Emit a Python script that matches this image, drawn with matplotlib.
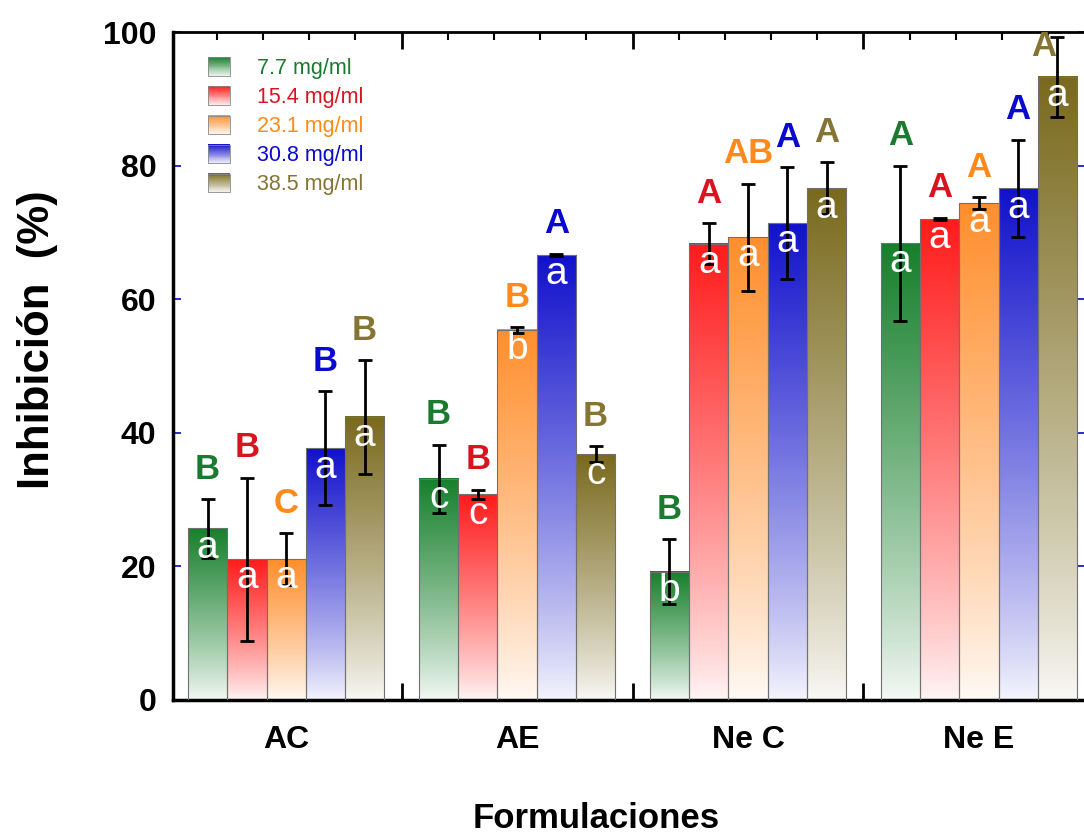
import numpy as np
import matplotlib
matplotlib.use('Agg')
import matplotlib.pyplot as plt
from matplotlib.colors import LinearSegmentedColormap, to_rgb
from matplotlib.legend_handler import HandlerBase
from matplotlib.patches import Rectangle, Patch

plt.rcParams['font.family'] = ['Liberation Sans', 'DejaVu Sans']

groups = ['AC', 'AE', 'Ne C', 'Ne E']
conc = ['7.7 mg/ml', '15.4 mg/ml', '23.1 mg/ml', '30.8 mg/ml', '38.5 mg/ml']

# mean inhibition (%) per concentration, one value per formulation
c77 = [25.7, 33.1, 19.2, 68.4]
c154 = [21.1, 30.8, 68.3, 72.0]
c231 = [21.1, 55.4, 69.3, 74.4]
c308 = [37.7, 66.6, 71.4, 76.6]
c385 = [42.4, 36.8, 76.6, 93.3]

# standard deviations
s77 = [4.4, 5.1, 4.9, 11.6]
s154 = [12.2, 0.7, 3.1, 0.2]
s231 = [3.9, 0.4, 8.0, 0.9]
s308 = [8.5, 0.2, 8.4, 7.3]
s385 = [8.5, 1.2, 3.9, 6.0]

# significance letters
up77 = ['B', 'B', 'B', 'A']
up154 = ['B', 'B', 'A', 'A']
up231 = ['C', 'B', 'AB', 'A']
up308 = ['B', 'A', 'A', 'A']
up385 = ['B', 'B', 'A', 'A']
lo77 = ['a', 'c', 'b', 'a']
lo154 = ['a', 'c', 'a', 'a']
lo231 = ['a', 'b', 'a', 'a']
lo308 = ['a', 'a', 'a', 'a']
lo385 = ['a', 'c', 'a', 'a']

means = [c77, c154, c231, c308, c385]
sds = [s77, s154, s231, s308, s385]
ups = [up77, up154, up231, up308, up385]
los = [lo77, lo154, lo231, lo308, lo385]

bar_colors = ['#17802c', '#ff1c1c', '#ff8f2e', '#1212cc', '#7a6a1e']
letter_colors = ['#1a7a30', '#d8141e', '#ff8a1c', '#0a0acc', '#857434']


def fade(col, t):
    c = np.array(to_rgb(col))
    return tuple(1 - (1 - c) * t)


class GradientHandler(HandlerBase):
    def create_artists(self, legend, orig_handle, xdescent, ydescent,
                       width, height, fontsize, trans):
        col = orig_handle.get_facecolor()
        n = 20
        arts = []
        for k in range(n):
            t = (k + 0.5) / n
            r = Rectangle((-xdescent, -ydescent + k * height / n), width, height / n + 0.3,
                          facecolor=fade(col, 0.08 + 0.92 * t), edgecolor='none', transform=trans)
            arts.append(r)
        arts.append(Rectangle((-xdescent, -ydescent), width, height, facecolor='none',
                              edgecolor='#888888', linewidth=0.6, transform=trans))
        return arts


fig = plt.figure(figsize=(10.84, 8.4), dpi=100)
ax = fig.add_axes([0.1596, 0.1667, 0.8423, 0.7952])

x = np.arange(len(groups))
width = 0.17
offsets = (np.arange(5) - 2) * width
grad = np.linspace(0, 1, 256).reshape(-1, 1) ** 0.85

for i in range(5):
    xs = x + offsets[i]
    col = bar_colors[i]
    bars = ax.bar(xs, means[i], width, color='none', edgecolor='#707070', linewidth=0.8, zorder=3)
    cmap = LinearSegmentedColormap.from_list('g%d' % i, [fade(col, 0.04), col])
    for b in bars:
        x0, w, h = b.get_x(), b.get_width(), b.get_height()
        ax.imshow(grad, cmap=cmap, aspect='auto', origin='lower',
                  extent=[x0, x0 + w, 0, h], zorder=2, interpolation='bilinear')
    ax.errorbar(xs, means[i], yerr=sds[i], fmt='none', ecolor='black',
                elinewidth=2, capsize=5, capthick=2, zorder=4)
    for xi, mi, si, up, lo in zip(xs, means[i], sds[i], ups[i], los[i]):
        yl = mi + si + 2.0
        xl = xi
        if yl > 96:
            yl = 95.3
            xl = xi - 0.06
        ax.text(xl, yl, up, color=letter_colors[i], fontsize=25, fontweight='bold',
                ha='center', va='bottom', zorder=5)
        ax.text(xi, mi - 4.4, lo, color='white', fontsize=28,
                ha='center', va='baseline', zorder=5)

ax.set_xlim(-0.49, 3.464)
ax.set_ylim(0, 100)

# y axis
ax.set_yticks([0, 20, 40, 60, 80, 100])
ax.tick_params(axis='y', which='major', direction='in', left=True, right=True,
               color='#1a1acc', length=6, width=1.3, labelsize=23, pad=12)
for lab in ax.get_yticklabels():
    lab.set_fontweight('bold')

# x axis ticks (Origin-like)
ax.set_xticks([0.5, 1.5, 2.5])
ax.set_xticklabels([])
minor = [p for p in np.round(np.arange(-0.3, 3.31, 0.2), 2) if p not in (0.5, 1.5, 2.5)]
ax.set_xticks(minor, minor=True)
ax.tick_params(axis='x', which='both', direction='in', top=True, bottom=True, color='black')
ax.tick_params(axis='x', which='major', length=12, width=2)
ax.tick_params(axis='x', which='minor', length=6, width=1.5)

sec = ax.secondary_xaxis('bottom')
sec.set_xticks(x, labels=groups)
sec.tick_params(length=0, pad=18, labelsize=23)
for lab in sec.get_xticklabels():
    lab.set_fontweight('bold')
sec.spines['bottom'].set_visible(False)

for side in ['left', 'bottom']:
    ax.spines[side].set_linewidth(2.5)
ax.spines['top'].set_linewidth(2)
ax.spines['right'].set_linewidth(1)

ax.set_ylabel('Inhibición  (%)', fontsize=31.5, fontweight='bold', va='center')
ax.yaxis.set_label_coords(-0.148, 0.54)
ax.set_xlabel('Formulaciones', fontsize=25, fontweight='bold', va='center')
ax.xaxis.set_label_coords(0.464, -0.177)

handles = [Patch(facecolor=c) for c in bar_colors]
leg = ax.legend(handles, conc, loc='upper left', bbox_to_anchor=(0.038, 0.962),
                frameon=False, fontsize=15.5, handlelength=1.02, handleheight=0.93,
                handletextpad=1.25, labelspacing=0.35, borderpad=0, borderaxespad=0,
                handler_map={Patch: GradientHandler()})
for txt, c in zip(leg.get_texts(), letter_colors):
    txt.set_color(c)

fig.savefig('out.png', dpi=100)
